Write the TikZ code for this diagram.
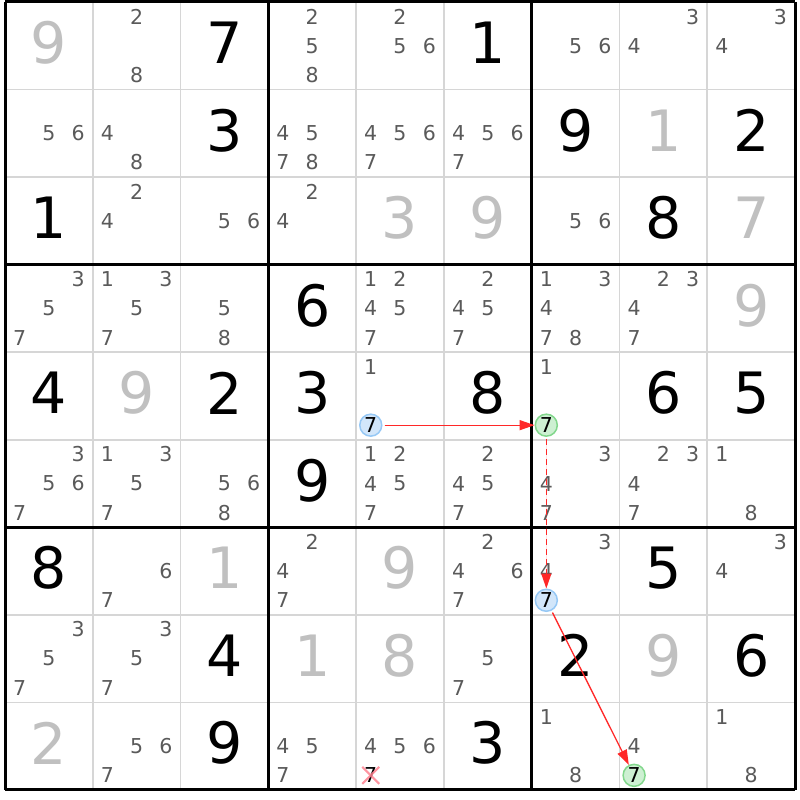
\documentclass[tikz,border=0pt]{standalone}
\usepackage{fontspec}
\setmainfont{DejaVu Sans}
\usepackage{tikz}
\usetikzlibrary{arrows.meta, shapes.misc}
\definecolor{candgray}{RGB}{90,90,90}
\definecolor{givengray}{RGB}{192,192,192}
\definecolor{gridgray}{RGB}{214,214,214}
\definecolor{hlblue}{RGB}{150,200,245}
\definecolor{hlbluefill}{RGB}{210,230,250}
\definecolor{hlgreen}{RGB}{130,215,140}
\definecolor{hlgreenfill}{RGB}{205,240,210}
\definecolor{crosspink}{RGB}{255,130,145}
\definecolor{linkred}{RGB}{255,40,40}
\newcommand{\givenfont}{\fontsize{57}{57}\selectfont}
\newcommand{\candfont}{\fontsize{20.5}{20.5}\selectfont}
\def\cellw{87.78}
\def\cellh{87.55}

\begin{document}
\begin{tikzpicture}[
    x=1pt, y=-1pt,
    thinline/.style={draw=gridgray, line width=1.8pt},
    thickline/.style={draw=black, line width=3pt},
    given/.style={font=\givenfont, text=givengray, inner sep=0pt},
    solved/.style={font=\givenfont, text=black, inner sep=0pt},
    cand/.style={font=\candfont, text=candgray, inner sep=0pt},
    chainstart/.style={circle, draw=hlblue, fill=hlbluefill, line width=1.5pt, minimum size=22pt, inner sep=0pt, font=\candfont},
    chainend/.style={circle, draw=hlgreen, fill=hlgreenfill, line width=1.5pt, minimum size=22pt, inner sep=0pt, font=\candfont},
    elim/.style={font=\candfont, text=black, inner sep=0pt},
    link/.style={-{Triangle[length=15pt,width=10pt]}, draw=linkred, fill=linkred, line width=1.3pt, shorten <=2pt},
    weaklink/.style={link, dash pattern=on 6pt off 4pt}
]
\useasboundingbox (0,0) rectangle (800,800);

% Grid
\foreach \i in {0,...,9} {
    \draw[thinline] ({5+\i*\cellw},2) -- ({5+\i*\cellw},790);
    \draw[thinline] (5,{2+\i*\cellh}) -- (795,{2+\i*\cellh});
}
\foreach \i in {0,3,6,9} {
    \draw[thickline] ({5+\i*\cellw},2) -- ({5+\i*\cellw},790);
    \draw[thickline] (5,{2+\i*\cellh}) -- (795,{2+\i*\cellh});
}

% Given clues
\foreach \r/\c/\v in {1/1/9, 2/8/1, 3/5/3, 3/6/9, 3/9/7, 4/9/9, 5/2/9,
                      7/3/1, 7/5/9, 8/4/1, 8/5/8, 8/8/9, 9/1/2}
    \node[given] (g\r\c) at ({5+(\c-0.5)*\cellw},{(\r-0.5)*\cellh-1}) {\v};

% Solved cells
\foreach \r/\c/\v in {1/3/7, 1/6/1, 2/3/3, 2/7/9, 2/9/2, 3/1/1, 3/8/8, 4/4/6,
                      5/1/4, 5/3/2, 5/4/3, 5/6/8, 5/8/6, 5/9/5, 6/4/9, 7/1/8,
                      7/8/5, 8/3/4, 8/7/2, 8/9/6, 9/3/9, 9/6/3}
    \node[solved] (s\r\c) at ({5+(\c-0.5)*\cellw},{(\r-0.5)*\cellh-1}) {\v};

% Candidates
\foreach \r/\c/\list in {1/2/{2,8}, 1/4/{2,5,8}, 1/5/{2,5,6}, 1/7/{5,6}, 1/8/{3,4}, 1/9/{3,4},
                         2/1/{5,6}, 2/2/{4,8}, 2/4/{4,5,7,8}, 2/5/{4,5,6,7}, 2/6/{4,5,6,7},
                         3/2/{2,4}, 3/3/{5,6}, 3/4/{2,4}, 3/7/{5,6},
                         4/1/{3,5,7}, 4/2/{1,3,5,7}, 4/3/{5,8}, 4/5/{1,2,4,5,7}, 4/6/{2,4,5,7},
                         4/7/{1,3,4,7,8}, 4/8/{2,3,4,7},
                         5/5/{1}, 5/7/{1},
                         6/1/{3,5,6,7}, 6/2/{1,3,5,7}, 6/3/{5,6,8}, 6/5/{1,2,4,5,7}, 6/6/{2,4,5,7},
                         6/7/{3,4,7}, 6/8/{2,3,4,7}, 6/9/{1,8},
                         7/2/{6,7}, 7/4/{2,4,7}, 7/6/{2,4,6,7}, 7/7/{3,4}, 7/9/{3,4},
                         8/1/{3,5,7}, 8/2/{3,5,7}, 8/6/{5,7},
                         9/2/{5,6,7}, 9/4/{4,5,7}, 9/5/{4,5,6}, 9/7/{1,8}, 9/8/{4}, 9/9/{1,8}}
    \foreach \d in \list {
        \pgfmathsetmacro{\px}{5+(\c-1)*\cellw+(2*mod(\d-1,3)+1)*\cellw/6}
        \pgfmathsetmacro{\py}{2+(\r-1)*\cellh+(2*floor((\d-1)/3)+1)*\cellh/6}
        \node[cand] (c\r\c\d) at (\px,\py) {\d};
    }

% Chain of 7s
\foreach \r/\c/\sty in {5/5/chainstart, 5/7/chainend, 7/7/chainstart, 9/8/chainend, 9/5/elim} {
    \pgfmathsetmacro{\px}{5+(\c-1)*\cellw+\cellw/6}
    \pgfmathsetmacro{\py}{2+(\r-1)*\cellh+5*\cellh/6}
    \node[\sty] (h\r\c) at (\px,\py) {7};
}
\node[cross out, draw=crosspink, opacity=0.85, line width=2pt, minimum size=15pt, inner sep=0pt] (x95) at (h95) {};

% Arrows
\draw[link] (h55) -- (h57);
\draw[weaklink] (h57) -- (h77);
\draw[link] (h77) -- (h98);

\end{tikzpicture}
\end{document}
